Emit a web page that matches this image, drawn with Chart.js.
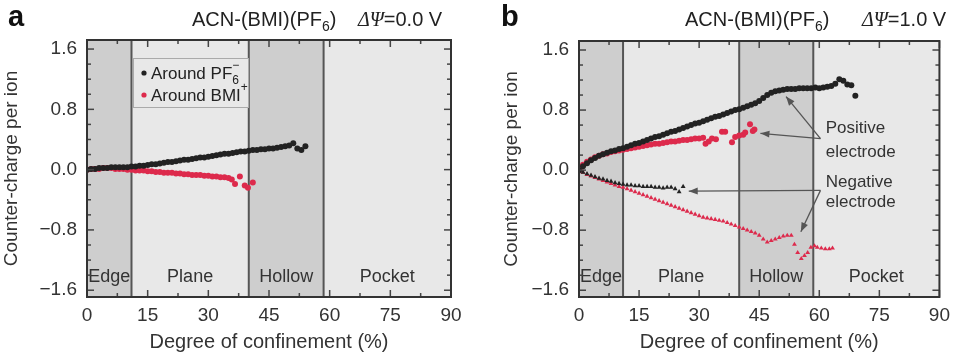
<!DOCTYPE html>
<html>
<head>
<meta charset="utf-8">
<script src="https://cdn.jsdelivr.net/npm/chart.js@4.4.0/dist/chart.umd.min.js"></script>
<style>
  body { margin: 0; background: #fff; }
  #wrap { position: relative; width: 957px; height: 352px; }
  canvas { position: absolute; top: 0; }
</style>
</head>
<body>
<div id="wrap">
  <canvas id="chartA" width="478" height="352" style="left:0"></canvas>
  <canvas id="chartB" width="479" height="352" style="left:478px"></canvas>
</div>
<script>
// ---- data (degree of confinement %, counter-charge per ion) ----
const xTicks = [0, 15, 30, 45, 60, 75, 90];
const yTicks = [-1.6, -0.8, 0, 0.8, 1.6];
const zoneEdges = [0, 11, 40, 58.5, 90];
const zoneNames = ['Edge', 'Plane', 'Hollow', 'Pocket'];

// panel a, dPsi = 0.0 V
const aroundPF6 = [[0,0.00],[1,0.01],[2,0.01],[3,0.02],[4,0.02],[5,0.02],[6,0.03],[7,0.03],[8,0.03],[9,0.03],
  [10,0.03],[11,0.04],[12,0.04],[13,0.05],[14,0.05],[15,0.06],[16,0.07],[17,0.07],[18,0.08],[19,0.09],
  [20,0.10],[21,0.10],[22,0.11],[23,0.12],[24,0.13],[25,0.13],[26,0.14],[27,0.15],[28,0.16],[29,0.16],
  [30,0.17],[31,0.18],[32,0.19],[33,0.20],[34,0.21],[35,0.21],[36,0.22],[37,0.23],[38,0.24],[39,0.24],
  [40,0.25],[41,0.26],[42,0.26],[43,0.27],[44,0.27],[45,0.28],[46,0.28],[47,0.29],[48,0.30],[49,0.31],
  [50,0.32],[51,0.35],[52,0.28],[53,0.26],[54,0.31]];
const aroundBMI = [[0,0.00],[1,0.01],[2,0.01],[3,0.01],[4,0.02],[5,0.02],[6,0.02],[7,0.01],[8,0.01],[9,0.01],
  [10,0.00],[11,0.00],[12,-0.01],[13,-0.01],[14,-0.01],[15,-0.02],[16,-0.02],[17,-0.03],[18,-0.03],[19,-0.04],
  [20,-0.04],[21,-0.04],[22,-0.05],[23,-0.05],[24,-0.06],[25,-0.06],[26,-0.07],[27,-0.07],[28,-0.07],[29,-0.08],
  [30,-0.08],[31,-0.09],[32,-0.09],[33,-0.10],[34,-0.10],[35,-0.11],[35.8,-0.13],[36.6,-0.19],[37.8,-0.09],
  [39,-0.21],[39.8,-0.24],[41,-0.17]];

// panel b, dPsi = 1.0 V
const posPF6 = [[0,0.00],[1,0.05],[2,0.09],[3,0.13],[4,0.16],[5,0.19],[6,0.21],[7,0.23],[8,0.25],[9,0.26],
  [10,0.28],[11,0.29],[12,0.31],[13,0.33],[14,0.35],[15,0.36],[16,0.38],[17,0.40],[18,0.42],[19,0.44],
  [20,0.45],[21,0.47],[22,0.49],[23,0.51],[24,0.52],[25,0.54],[26,0.56],[27,0.58],[28,0.60],[29,0.62],
  [30,0.63],[31,0.65],[32,0.67],[33,0.69],[34,0.71],[35,0.72],[36,0.74],[37,0.76],[38,0.78],[39,0.80],
  [40,0.81],[41,0.83],[42,0.85],[43,0.87],[44,0.89],[45,0.92],[46,0.96],[47,1.00],[48,1.03],[49,1.05],
  [50,1.06],[51,1.07],[52,1.08],[53,1.08],[54,1.08],[55,1.09],[56,1.09],[57,1.09],[58,1.09],[59,1.10],
  [60,1.09],[61,1.10],[62,1.11],[63,1.12],[64,1.15],[65,1.21],[66,1.19],[67,1.14],[68,1.13],[69,0.99]];
const posBMI = [[0,0.00],[0.5,0.04],[1,0.07],[2,0.11],[3,0.14],[4,0.17],[5,0.19],[6,0.21],[7,0.22],[8,0.24],
  [9,0.25],[10,0.26],[11,0.27],[12,0.28],[13,0.29],[14,0.30],[15,0.31],[16,0.32],[17,0.33],[18,0.34],
  [19,0.35],[20,0.35],[21,0.36],[22,0.37],[23,0.38],[24,0.38],[25,0.39],[26,0.40],[27,0.40],[28,0.41],
  [29,0.42],[30,0.42],[31,0.43],[31.6,0.35],[32.4,0.38],[33.2,0.42],[34.2,0.41],[35.7,0.51],[36.5,0.51],
  [38.2,0.37],[39,0.44],[40,0.46],[41,0.47],[41.5,0.50],[42.7,0.61],[43.4,0.52],[43.8,0.54]];
const negPF6 = [[0,0.00],[1,-0.03],[2,-0.05],[3,-0.07],[4,-0.09],[5,-0.11],[6,-0.12],[7,-0.14],[8,-0.15],
  [9,-0.17],[10,-0.18],[11,-0.19],[12,-0.20],[13,-0.20],[14,-0.21],[15,-0.21],[16,-0.22],[17,-0.22],
  [18,-0.22],[19,-0.23],[20,-0.23],[21,-0.24],[22,-0.23],[23,-0.23],[24,-0.25],[25,-0.29],[26,-0.22]];
const negBMI = [[0,0.00],[1,-0.03],[2,-0.06],[3,-0.08],[4,-0.10],[5,-0.12],[6,-0.14],[7,-0.16],[8,-0.18],
  [9,-0.20],[10,-0.22],[11,-0.23],[12,-0.25],[13,-0.27],[14,-0.29],[15,-0.31],[16,-0.33],[17,-0.35],
  [18,-0.37],[19,-0.39],[20,-0.41],[21,-0.43],[22,-0.45],[23,-0.47],[24,-0.49],[25,-0.51],[26,-0.53],
  [27,-0.55],[28,-0.57],[29,-0.59],[30,-0.61],[31,-0.63],[32,-0.64],[33,-0.65],[34,-0.66],[35,-0.67],
  [36,-0.68],[37,-0.70],[38,-0.72],[39,-0.74],[40,-0.76],[41,-0.78],[42,-0.80],[43,-0.82],[44,-0.84],
  [45,-0.87],[46,-0.92],[47,-0.96],[48,-0.94],[49,-0.92],[50,-0.90],[51,-0.88],[52,-0.87],[53,-0.87],
  [53.8,-0.99],[54.6,-1.10],[55.5,-1.18],[56.3,-1.14],[57.1,-1.10],[57.9,-1.03],[58.8,-1.01],[59.5,-1.03],
  [60.5,-1.04],[61.5,-1.05],[62.5,-1.05],[63.3,-1.04]];

// annotation arrows for panel b: [fromX, fromY, toX, toY] in data units
const posArrows = [[60.3, 0.42, 51.7, 0.98], [60.3, 0.42, 45.3, 0.49]];
const negArrows = [[60.3, -0.27, 27.4, -0.28], [60.3, -0.27, 55.4, -0.82]];

const BLACK = '#222222';
const RED = '#dd2a4c';
const DARK = '#cecece';
const LIGHT = '#e8e8e8';
const FONT = '"Liberation Sans", Arial, sans-serif';

Chart.defaults.font.family = FONT;
Chart.defaults.color = '#333';

function fmtY(v) {
  return v < 0 ? '\u2212' + (-v).toFixed(1) : v.toFixed(1);
}

// draw a run of text pieces with their own fonts / vertical shifts
// (stack: true puts the piece over the previous one, like a sub+superscript pair)
function richText(ctx, x, y, parts) {
  ctx.textAlign = 'left';
  ctx.textBaseline = 'alphabetic';
  let lastX = x;
  parts.forEach(p => {
    ctx.font = p.f;
    const px = p.stack ? lastX : x;
    ctx.fillText(p.t, px, y + (p.dy || 0));
    lastX = px;
    x = Math.max(x, px + ctx.measureText(p.t).width);
  });
  return x;
}

function arrow(ctx, x1, y1, x2, y2) {
  const ang = Math.atan2(y2 - y1, x2 - x1);
  ctx.beginPath();
  ctx.moveTo(x1, y1);
  ctx.lineTo(x2, y2);
  ctx.stroke();
  ctx.beginPath();
  ctx.moveTo(x2, y2);
  ctx.lineTo(x2 - 9 * Math.cos(ang) + 3.5 * Math.sin(ang), y2 - 9 * Math.sin(ang) - 3.5 * Math.cos(ang));
  ctx.lineTo(x2 - 9 * Math.cos(ang) - 3.5 * Math.sin(ang), y2 - 9 * Math.sin(ang) + 3.5 * Math.cos(ang));
  ctx.closePath();
  ctx.fill();
}

function decor(cfg) {
  return {
    id: 'decor',
    beforeDatasetsDraw(chart) {
      const { ctx, chartArea: a, scales: { x } } = chart;
      ctx.save();
      for (let i = 0; i < zoneNames.length; i++) {
        const x0 = x.getPixelForValue(zoneEdges[i]);
        const x1 = x.getPixelForValue(zoneEdges[i + 1]);
        ctx.fillStyle = i % 2 === 0 ? DARK : LIGHT;
        ctx.fillRect(x0, a.top, x1 - x0, a.bottom - a.top);
      }
      ctx.strokeStyle = '#555';
      ctx.lineWidth = 2;
      for (let i = 1; i < zoneEdges.length - 1; i++) {
        const px = x.getPixelForValue(zoneEdges[i]);
        ctx.beginPath();
        ctx.moveTo(px, a.top);
        ctx.lineTo(px, a.bottom);
        ctx.stroke();
      }
      ctx.fillStyle = '#333';
      ctx.font = '18px ' + FONT;
      ctx.textAlign = 'center';
      ctx.textBaseline = 'middle';
      zoneNames.forEach((n, i) => {
        const cx = x.getPixelForValue((zoneEdges[i] + zoneEdges[i + 1]) / 2);
        ctx.fillText(n, cx, a.bottom - 20);
      });
      ctx.restore();
    },
    afterDatasetsDraw(chart) {
      const { ctx, chartArea: a, scales: { x, y } } = chart;
      ctx.save();
      // inward ticks on all four sides
      ctx.strokeStyle = '#444';
      ctx.lineWidth = 1.5;
      const tick = (x0, y0, x1, y1) => { ctx.beginPath(); ctx.moveTo(x0, y0); ctx.lineTo(x1, y1); ctx.stroke(); };
      for (let v = 0; v <= 90; v += 7.5) {
        const px = x.getPixelForValue(v);
        const len = v % 15 === 0 ? 7 : 4;
        tick(px, a.bottom, px, a.bottom - len);
        tick(px, a.top, px, a.top + len);
      }
      for (let k = -8; k <= 8; k++) {
        const v = k * 0.2;
        const py = y.getPixelForValue(v);
        const len = k % 4 === 0 ? 7 : 4;
        tick(a.left, py, a.left + len, py);
        tick(a.right, py, a.right - len, py);
      }
      ctx.strokeStyle = '#333';
      ctx.lineWidth = 2;
      ctx.strokeRect(a.left, a.top, a.right - a.left, a.bottom - a.top);

      if (cfg.legend) {
        const L = cfg.legend;
        ctx.fillStyle = LIGHT;
        ctx.fillRect(L.x, L.y, L.w, L.h);
        ctx.strokeStyle = '#aaa';
        ctx.lineWidth = 1;
        ctx.strokeRect(L.x + 0.5, L.y + 0.5, L.w, L.h);
        const f = '17px ' + FONT, fs = '12px ' + FONT;
        ctx.fillStyle = BLACK;
        ctx.beginPath(); ctx.arc(L.x + 11, L.y + 15, 2.6, 0, Math.PI * 2); ctx.fill();
        ctx.fillStyle = '#222';
        richText(ctx, L.x + 18, L.y + 21, [{ t: 'Around PF', f: f }, { t: '6', f: fs, dy: 5 }, { t: '\u2212', f: fs, dy: -10, stack: true }]);
        ctx.fillStyle = RED;
        ctx.beginPath(); ctx.arc(L.x + 11, L.y + 37, 2.6, 0, Math.PI * 2); ctx.fill();
        ctx.fillStyle = '#222';
        richText(ctx, L.x + 18, L.y + 43, [{ t: 'Around BMI', f: f }, { t: '+', f: fs, dy: -10 }]);
      }

      if (cfg.notes) {
        ctx.strokeStyle = '#555';
        ctx.fillStyle = '#555';
        ctx.lineWidth = 1.3;
        [...posArrows, ...negArrows].forEach(r => {
          arrow(ctx, x.getPixelForValue(r[0]), y.getPixelForValue(r[1]),
                x.getPixelForValue(r[2]), y.getPixelForValue(r[3]));
        });
        ctx.fillStyle = '#333';
        ctx.font = '17px ' + FONT;
        ctx.textAlign = 'left';
        ctx.textBaseline = 'middle';
        const tx = x.getPixelForValue(61.6);
        ctx.fillText('Positive', tx, y.getPixelForValue(0.56));
        ctx.fillText('electrode', tx, y.getPixelForValue(0.24));
        ctx.fillText('Negative', tx, y.getPixelForValue(-0.16));
        ctx.fillText('electrode', tx, y.getPixelForValue(-0.43));
      }
      ctx.restore();
    },
    afterDraw(chart) {
      const ctx = chart.ctx;
      ctx.save();
      ctx.fillStyle = '#111';
      ctx.font = 'bold 29px ' + FONT;
      ctx.textAlign = 'left';
      ctx.textBaseline = 'alphabetic';
      ctx.fillText(cfg.letter, cfg.letterX, 26);
      ctx.fillStyle = '#222';
      const f = '20px ' + FONT, fs = '14px ' + FONT, fi = 'italic 20px "Liberation Serif", serif';
      richText(ctx, cfg.titleX, 26, [{ t: 'ACN-(BMI)(PF', f: f }, { t: '6', f: fs, dy: 5 }, { t: ')', f: f }]);
      richText(ctx, cfg.psiX, 26, [{ t: '\u0394', f: fi }, { t: '\u03A8', f: fi }, { t: cfg.volt, f: f }]);
      ctx.restore();
    }
  };
}

function makeChart(id, sets, cfg) {
  return new Chart(document.getElementById(id), {
    type: 'scatter',
    data: {
      datasets: sets.map(s => ({
        data: s.pts.map(p => ({ x: p[0], y: p[1] })),
        backgroundColor: s.color,
        borderWidth: 0,
        pointRadius: s.r,
        pointHoverRadius: s.r,
        pointStyle: s.shape
      }))
    },
    options: {
      responsive: false,
      animation: false,
      layout: { padding: cfg.pad },
      plugins: { legend: { display: false }, tooltip: { enabled: false } },
      scales: {
        x: {
          type: 'linear', min: 0, max: 90,
          afterBuildTicks: s => { s.ticks = xTicks.map(v => ({ value: v })); },
          afterFit: s => { s.height = 55; },
          grid: { display: false, drawTicks: false },
          border: { display: false },
          ticks: { padding: 7, font: { size: 19 }, color: '#333' },
          title: { display: true, text: 'Degree of confinement (%)', font: { size: 20, lineHeight: 1 }, padding: 0, color: '#333' }
        },
        y: {
          type: 'linear', min: -1.69, max: 1.72,
          afterBuildTicks: s => { s.ticks = yTicks.map(v => ({ value: v })); },
          afterFit: s => { s.width = cfg.yw; },
          grid: { display: false, drawTicks: false },
          border: { display: false },
          ticks: { padding: 10, font: { size: 19 }, color: '#333', callback: v => fmtY(v) },
          title: { display: true, text: 'Counter-charge per ion', font: { size: 19, lineHeight: 1 }, padding: { top: 2.5, bottom: 0 }, color: '#333' }
        }
      }
    },
    plugins: [decor(cfg)]
  });
}

makeChart('chartA', [
  { pts: aroundPF6, color: BLACK, r: 3, shape: 'circle' },
  { pts: aroundBMI, color: RED, r: 3, shape: 'circle' }
], {
  pad: { left: 0, top: 40, right: 27, bottom: 0 }, yw: 87,
  letter: 'a', letterX: 8, titleX: 192, psiX: 358, volt: '=0.0 V',
  legend: { x: 133, y: 58, w: 115, h: 49 }
});

makeChart('chartB', [
  { pts: posPF6, color: BLACK, r: 3, shape: 'circle' },
  { pts: negPF6, color: BLACK, r: 2.8, shape: 'triangle' },
  { pts: posBMI, color: RED, r: 3, shape: 'circle' },
  { pts: negBMI, color: RED, r: 2.8, shape: 'triangle' }
], {
  pad: { left: 22, top: 41, right: 14, bottom: 0 }, yw: 79,
  letter: 'b', letterX: 23, titleX: 207, psiX: 384, volt: '=1.0 V',
  notes: true
});
</script>
</body>
</html>
